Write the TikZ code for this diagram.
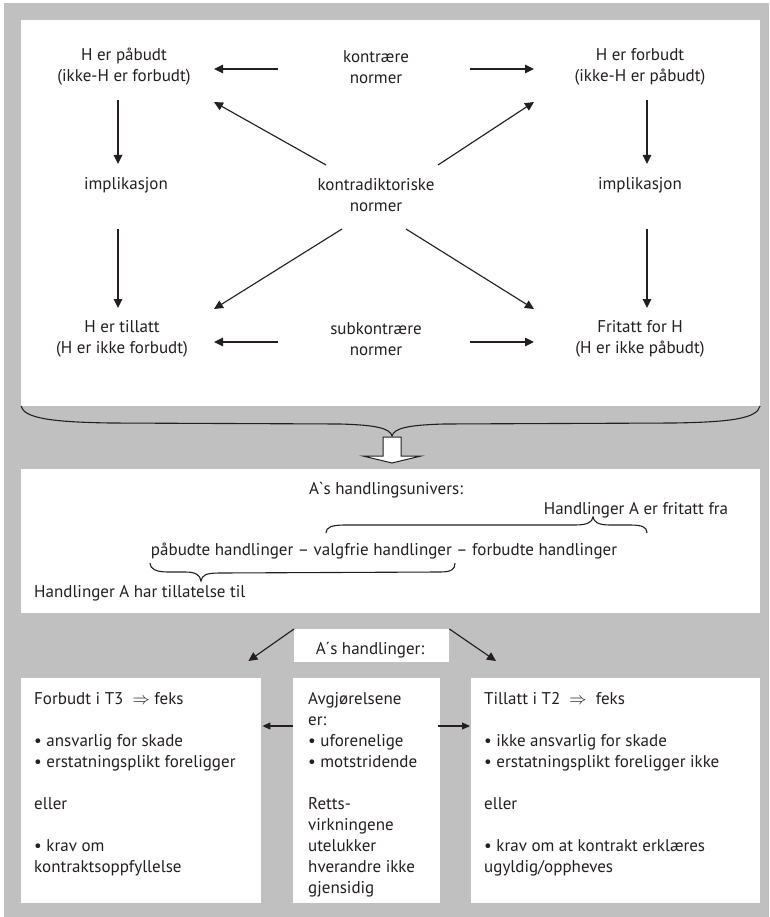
\documentclass[tikz,border=0pt]{standalone}
\usepackage{fontspec}
\newfontfamily\mf{PT Sans}
\usetikzlibrary{arrows.meta,calc}
\definecolor{bggray}{HTML}{C0C0C0}
\definecolor{ink}{HTML}{231F20}
\begin{document}
\begin{tikzpicture}[x=1pt,y=-1pt,
  txt/.style={font=\mf\fontsize{17}{21}\selectfont, align=center, inner sep=0, text=ink},
  btxt/.style={font=\mf\fontsize{17}{21}\selectfont, align=left, inner sep=0, text=ink, anchor=north west},
  arr/.style={-{Triangle[length=9pt,width=8.5pt]}, line width=1.15pt, draw=ink},
  arrs/.style={-{Triangle[length=8pt,width=7pt]}, line width=1.1pt, draw=ink},
  brace/.style={line width=1.1pt, draw=ink},
  wbox/.style={fill=white, draw=none, inner sep=0, anchor=north west}]
\useasboundingbox (0,0) rectangle (769,917);
\fill[white] (0,0) rectangle (769,917);
\fill[bggray] (4,3) rectangle (769,917);
% panels
\fill[white] (21,20) rectangle (760,406);
\fill[white] (21,469) rectangle (760,613);
% top square of norms
\node[txt] (pab) at (124,67) {H er påbudt\\(ikke-H er forbudt)};
\node[txt] (kontr) at (376,67) {kontrære\\normer};
\node[txt] (forb) at (640,67) {H er forbudt\\(ikke-H er påbudt)};
\node[txt] (impl1) at (126,185) {implikasjon};
\node[txt] (kontrad) at (376,195) {kontradiktoriske\\normer};
\node[txt] (impl2) at (640,185) {implikasjon};
\node[txt] (till) at (122,339) {H er tillatt\\(H er ikke forbudt)};
\node[txt] (subk) at (376,339) {subkontrære\\normer};
\node[txt] (frit) at (640,339) {Fritatt for H\\(H er ikke påbudt)};
% arrows
\draw[arr] ($(kontr)+(-98,2)$) -- ($(pab)+(90,2)$);
\draw[arr] ($(kontr)+(94,2)$) -- ($(forb)+(-106,2)$);
\draw[arr] ($(pab)+(-6,33)$) -- ($(impl1)+(-8,-21)$);
\draw[arr] ($(forb)+(7,33)$) -- ($(impl2)+(7,-21)$);
\draw[arr] ($(kontrad)+(-50,-30)$) -- ($(pab)+(90,35)$);
\draw[arr] ($(kontrad)+(62,-30)$) -- ($(forb)+(-106,35)$);
\draw[arr] ($(impl1)+(-8,44)$) -- ($(till)+(-4,-31)$);
\draw[arr] ($(impl2)+(7,44)$) -- ($(frit)+(7,-31)$);
\draw[arr] ($(kontrad)+(-34,34)$) -- ($(till)+(92,-30)$);
\draw[arr] ($(kontrad)+(30,34)$) -- ($(frit)+(-106,-30)$);
\draw[arr] ($(subk)+(-98,3)$) -- ($(till)+(92,3)$);
\draw[arr] ($(subk)+(94,3)$) -- ($(frit)+(-106,3)$);
% big brace
\draw[brace] (21,406) .. controls (24,418) and (50,422) .. (110,423) -- (340,424)
  .. controls (375,425) and (390,428) .. (392,436)
  .. controls (394,428) and (409,425) .. (444,424) -- (674,423)
  .. controls (734,422) and (757,418) .. (760,406);
% open arrow
\draw[line width=1pt, draw=ink, fill=white] (383,437) -- (401,437) -- (401,456) -- (421,456) -- (392,463) -- (363,456) -- (383,456) -- cycle;
% second panel
\node[txt] (univ) at (386,490) {A`s handlingsunivers:};
\node[txt] (fritfra) at (636,510) {Handlinger A er fritatt fra};
\node[txt] (seq) at (384,551) {påbudte handlinger – valgfrie handlinger – forbudte handlinger};
\node[txt, anchor=west] (tillat) at (34,593) {Handlinger A har tillatelse til};
\draw[brace] (326,533) .. controls (326,527) and (332,525) .. (345,525) -- (575,525)
  .. controls (588,525) and (592,522) .. (593,517)
  .. controls (594,522) and (598,525) .. (610,525) -- (630,525)
  .. controls (642,525) and (647,527) .. (647,533);
\draw[brace] (150,563) .. controls (150,569) and (156,572) .. (168,572) -- (185,572)
  .. controls (196,572) and (200,575) .. (201,581)
  .. controls (202,575) and (206,573) .. (220,573) -- (440,572)
  .. controls (452,572) and (455,569) .. (455,563);
% A's handlinger
\node[wbox, minimum width=155, minimum height=33] (abox) at (294,629) {};
\node[txt] (ahand) at (370,650) {A´s handlinger:};
% bottom boxes
\node[wbox, minimum width=240, minimum height=225] (lbox) at (21,678) {};
\node[wbox, minimum width=147, minimum height=225] (mbox) at (293,678) {};
\node[wbox, minimum width=289, minimum height=225] (rbox) at (471,678) {};
\node[btxt] (ltxt) at ($(lbox.north west)+(13,14)$) {Forbudt i T3 \ $\Rightarrow$ feks\\[21pt]• ansvarlig for skade\\• erstatningsplikt foreligger\\[21pt]eller\\[21pt]• krav om\\kontraktsoppfyllelse};
\node[btxt] (mtxt) at ($(mbox.north west)+(15,14)$) {Avgjørelsene\\er:\\• uforenelige\\• motstridende\\[21pt]Retts-\\virkningene\\utelukker\\hverandre ikke\\gjensidig};
\node[btxt] (rtxt) at ($(rbox.north west)+(13,14)$) {Tillatt i T2 \ $\Rightarrow$ \ feks\\[21pt]• ikke ansvarlig for skade\\• erstatningsplikt foreligger ikke\\[21pt]eller\\[21pt]• krav om at kontrakt erklæres\\ugyldig/oppheves};
\draw[arr] (abox.north west) -- ($(lbox.north east)+(-13,-17)$);
\draw[arr] (abox.north east) -- ($(rbox.north west)+(25,-17)$);
\draw[arrs] ($(mbox.north west)+(0,48)$) -- ($(lbox.north east)+(1,48)$);
\draw[arrs] ($(mbox.north east)+(-2,48)$) -- ($(rbox.north west)+(-1,48)$);
\end{tikzpicture}
\end{document}
